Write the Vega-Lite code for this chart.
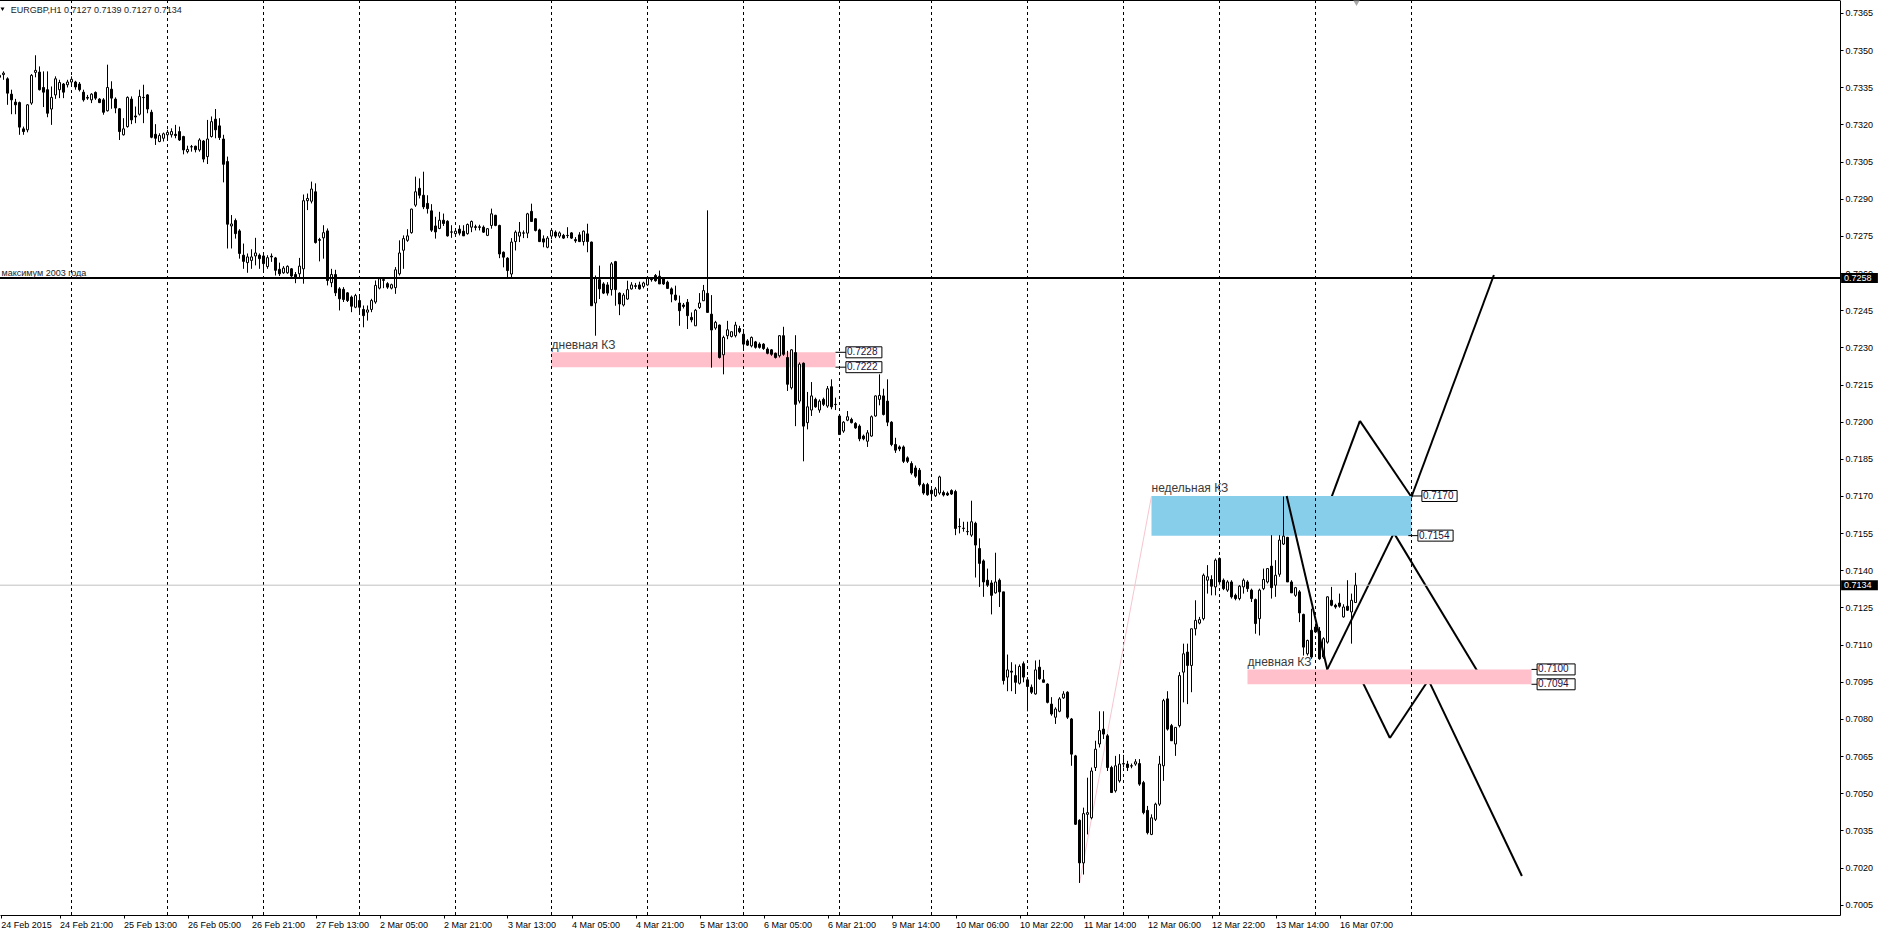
{
"$schema": "https://vega.github.io/schema/vega-lite/v6.json",
"width": 1840, "height": 915,
"autosize": {"type": "none"},
"padding": {"left": 0, "top": 0, "right": 42, "bottom": 19},
"background": "white",
"config": {"view": {"stroke": null}, "font": "Liberation Sans", "axis": {"labelOverlap": false, "labelSeparation": 0}, "scale": {"continuousPadding": 0}},
"datasets": {
"candles": [
{"n":0,"o":0.7339,"h":0.73403,"l":0.7338,"c":0.73398},
{"n":1,"o":0.73401,"h":0.73414,"l":0.7338,"c":0.73407},
{"n":2,"o":0.73384,"h":0.7339,"l":0.73279,"c":0.73326},
{"n":3,"o":0.73322,"h":0.7334,"l":0.73241,"c":0.73299},
{"n":4,"o":0.7329,"h":0.73303,"l":0.73241,"c":0.73279},
{"n":5,"o":0.73288,"h":0.73292,"l":0.73158,"c":0.73189},
{"n":6,"o":0.73182,"h":0.73191,"l":0.73158,"c":0.73171},
{"n":7,"o":0.73178,"h":0.73282,"l":0.73168,"c":0.73279},
{"n":8,"o":0.73286,"h":0.73403,"l":0.73279,"c":0.73398},
{"n":9,"o":0.7341,"h":0.73479,"l":0.7339,"c":0.73418},
{"n":10,"o":0.73411,"h":0.73434,"l":0.73337,"c":0.7334},
{"n":11,"o":0.73349,"h":0.73414,"l":0.7327,"c":0.7333},
{"n":12,"o":0.7334,"h":0.73414,"l":0.73229,"c":0.73245},
{"n":13,"o":0.73262,"h":0.73353,"l":0.73198,"c":0.73309},
{"n":14,"o":0.73319,"h":0.73394,"l":0.73303,"c":0.73384},
{"n":15,"o":0.7334,"h":0.7338,"l":0.73306,"c":0.73369},
{"n":16,"o":0.73363,"h":0.73367,"l":0.73306,"c":0.7333},
{"n":17,"o":0.7336,"h":0.7338,"l":0.73349,"c":0.73371},
{"n":18,"o":0.73371,"h":0.73394,"l":0.73353,"c":0.73382},
{"n":19,"o":0.73371,"h":0.73376,"l":0.7334,"c":0.73351},
{"n":20,"o":0.73363,"h":0.73371,"l":0.73333,"c":0.7334},
{"n":21,"o":0.7333,"h":0.7334,"l":0.73292,"c":0.73299},
{"n":22,"o":0.73309,"h":0.73319,"l":0.73299,"c":0.73306},
{"n":23,"o":0.73299,"h":0.73326,"l":0.73286,"c":0.73322},
{"n":24,"o":0.73329,"h":0.73333,"l":0.73299,"c":0.73306},
{"n":25,"o":0.73302,"h":0.73306,"l":0.73286,"c":0.73288},
{"n":26,"o":0.73299,"h":0.73306,"l":0.73239,"c":0.73249},
{"n":27,"o":0.73255,"h":0.73441,"l":0.73252,"c":0.73349},
{"n":28,"o":0.73342,"h":0.73374,"l":0.73263,"c":0.73306},
{"n":29,"o":0.73302,"h":0.73309,"l":0.73245,"c":0.73266},
{"n":30,"o":0.73263,"h":0.73266,"l":0.73137,"c":0.73171},
{"n":31,"o":0.73158,"h":0.73225,"l":0.73155,"c":0.73182},
{"n":32,"o":0.73191,"h":0.73313,"l":0.73187,"c":0.73309},
{"n":33,"o":0.73302,"h":0.73313,"l":0.73201,"c":0.73218},
{"n":34,"o":0.73234,"h":0.73272,"l":0.73205,"c":0.7323},
{"n":35,"o":0.73241,"h":0.7334,"l":0.73236,"c":0.73313},
{"n":36,"o":0.73309,"h":0.7336,"l":0.73205,"c":0.73308},
{"n":37,"o":0.73319,"h":0.73322,"l":0.73245,"c":0.73262},
{"n":38,"o":0.73249,"h":0.73259,"l":0.73144,"c":0.73148},
{"n":39,"o":0.7316,"h":0.73201,"l":0.73117,"c":0.73144},
{"n":40,"o":0.73131,"h":0.73164,"l":0.73128,"c":0.73155},
{"n":41,"o":0.73144,"h":0.73167,"l":0.73131,"c":0.73162},
{"n":42,"o":0.73158,"h":0.73178,"l":0.73144,"c":0.73168},
{"n":43,"o":0.73158,"h":0.73184,"l":0.73147,"c":0.73171},
{"n":44,"o":0.7316,"h":0.73198,"l":0.73144,"c":0.73155},
{"n":45,"o":0.73171,"h":0.73191,"l":0.73133,"c":0.73137},
{"n":46,"o":0.73151,"h":0.73154,"l":0.73079,"c":0.73097},
{"n":47,"o":0.7309,"h":0.73114,"l":0.73083,"c":0.73099},
{"n":48,"o":0.7311,"h":0.73117,"l":0.7309,"c":0.73109},
{"n":49,"o":0.73112,"h":0.73114,"l":0.73087,"c":0.73098},
{"n":50,"o":0.73097,"h":0.73144,"l":0.7309,"c":0.73137},
{"n":51,"o":0.73133,"h":0.73137,"l":0.73047,"c":0.7306},
{"n":52,"o":0.7307,"h":0.73218,"l":0.7304,"c":0.73141},
{"n":53,"o":0.73151,"h":0.73232,"l":0.73147,"c":0.73211},
{"n":54,"o":0.73221,"h":0.73262,"l":0.73144,"c":0.73178},
{"n":55,"o":0.73194,"h":0.73225,"l":0.73137,"c":0.73147},
{"n":56,"o":0.73141,"h":0.73158,"l":0.72966,"c":0.73039},
{"n":57,"o":0.7305,"h":0.7307,"l":0.72699,"c":0.72797},
{"n":58,"o":0.7279,"h":0.72834,"l":0.72699,"c":0.72798},
{"n":59,"o":0.72812,"h":0.7282,"l":0.72739,"c":0.72759},
{"n":60,"o":0.7277,"h":0.72777,"l":0.72658,"c":0.72679},
{"n":61,"o":0.72672,"h":0.72719,"l":0.72617,"c":0.72647},
{"n":62,"o":0.72642,"h":0.72679,"l":0.72601,"c":0.72665},
{"n":63,"o":0.72651,"h":0.72696,"l":0.72617,"c":0.72665},
{"n":64,"o":0.72669,"h":0.72742,"l":0.72631,"c":0.72681},
{"n":65,"o":0.72672,"h":0.72679,"l":0.72617,"c":0.72658},
{"n":66,"o":0.72669,"h":0.72679,"l":0.72604,"c":0.72638},
{"n":67,"o":0.72626,"h":0.72672,"l":0.72617,"c":0.72662},
{"n":68,"o":0.72668,"h":0.72679,"l":0.72645,"c":0.72665},
{"n":69,"o":0.72661,"h":0.72665,"l":0.7259,"c":0.72611},
{"n":70,"o":0.72615,"h":0.72642,"l":0.72588,"c":0.72597},
{"n":71,"o":0.72601,"h":0.72628,"l":0.72597,"c":0.7262},
{"n":72,"o":0.72601,"h":0.72631,"l":0.72597,"c":0.72627},
{"n":73,"o":0.72617,"h":0.7262,"l":0.72577,"c":0.72588},
{"n":74,"o":0.72594,"h":0.72604,"l":0.72559,"c":0.72582},
{"n":75,"o":0.72597,"h":0.72661,"l":0.72577,"c":0.72628},
{"n":76,"o":0.72617,"h":0.72917,"l":0.72557,"c":0.72892},
{"n":77,"o":0.72892,"h":0.72921,"l":0.72854,"c":0.72901},
{"n":78,"o":0.7289,"h":0.72969,"l":0.72881,"c":0.72939},
{"n":79,"o":0.72928,"h":0.72962,"l":0.72719,"c":0.72723},
{"n":80,"o":0.72735,"h":0.72742,"l":0.72647,"c":0.72732},
{"n":81,"o":0.72742,"h":0.72793,"l":0.72658,"c":0.72763},
{"n":82,"o":0.7277,"h":0.7278,"l":0.7255,"c":0.7257},
{"n":83,"o":0.72561,"h":0.72617,"l":0.72543,"c":0.72594},
{"n":84,"o":0.72594,"h":0.72613,"l":0.72507,"c":0.7252},
{"n":85,"o":0.72536,"h":0.72543,"l":0.72449,"c":0.72496},
{"n":86,"o":0.72534,"h":0.72543,"l":0.72483,"c":0.72493},
{"n":87,"o":0.7252,"h":0.72523,"l":0.72483,"c":0.72489},
{"n":88,"o":0.72503,"h":0.72509,"l":0.72442,"c":0.72466},
{"n":89,"o":0.72462,"h":0.72516,"l":0.72458,"c":0.72509},
{"n":90,"o":0.72489,"h":0.72509,"l":0.72442,"c":0.72462},
{"n":91,"o":0.72453,"h":0.72469,"l":0.72381,"c":0.72428},
{"n":92,"o":0.72442,"h":0.72469,"l":0.72408,"c":0.72451},
{"n":93,"o":0.72453,"h":0.72496,"l":0.72442,"c":0.72489},
{"n":94,"o":0.72483,"h":0.7257,"l":0.72476,"c":0.7255},
{"n":95,"o":0.72539,"h":0.72584,"l":0.72534,"c":0.72577},
{"n":96,"o":0.7257,"h":0.72584,"l":0.72539,"c":0.72574},
{"n":97,"o":0.72557,"h":0.72563,"l":0.72536,"c":0.72543},
{"n":98,"o":0.72539,"h":0.72557,"l":0.72534,"c":0.72553},
{"n":99,"o":0.72541,"h":0.72624,"l":0.72516,"c":0.72613},
{"n":100,"o":0.72597,"h":0.72732,"l":0.7259,"c":0.72681},
{"n":101,"o":0.72692,"h":0.72752,"l":0.72617,"c":0.72739},
{"n":102,"o":0.72732,"h":0.72777,"l":0.72726,"c":0.7275},
{"n":103,"o":0.72763,"h":0.7286,"l":0.72759,"c":0.72858},
{"n":104,"o":0.72874,"h":0.72989,"l":0.72867,"c":0.72928},
{"n":105,"o":0.72942,"h":0.72982,"l":0.72901,"c":0.72914},
{"n":106,"o":0.72914,"h":0.73009,"l":0.72858,"c":0.72867},
{"n":107,"o":0.72881,"h":0.72914,"l":0.7284,"c":0.7286},
{"n":108,"o":0.72851,"h":0.72878,"l":0.72766,"c":0.72773},
{"n":109,"o":0.7279,"h":0.72827,"l":0.72739,"c":0.72766},
{"n":110,"o":0.7278,"h":0.72847,"l":0.72777,"c":0.72813},
{"n":111,"o":0.72813,"h":0.7284,"l":0.7279,"c":0.728},
{"n":112,"o":0.72809,"h":0.72813,"l":0.72747,"c":0.7275},
{"n":113,"o":0.72766,"h":0.72793,"l":0.72742,"c":0.72765},
{"n":114,"o":0.72759,"h":0.7278,"l":0.72752,"c":0.72769},
{"n":115,"o":0.72777,"h":0.72793,"l":0.72752,"c":0.72761},
{"n":116,"o":0.72769,"h":0.72793,"l":0.7275,"c":0.7275},
{"n":117,"o":0.72759,"h":0.728,"l":0.72755,"c":0.72796},
{"n":118,"o":0.72785,"h":0.72812,"l":0.72765,"c":0.72808},
{"n":119,"o":0.72787,"h":0.72795,"l":0.72772,"c":0.72784},
{"n":120,"o":0.72784,"h":0.72795,"l":0.72772,"c":0.72787},
{"n":121,"o":0.72785,"h":0.72792,"l":0.72762,"c":0.72765},
{"n":122,"o":0.72752,"h":0.72781,"l":0.72749,"c":0.72779},
{"n":123,"o":0.72792,"h":0.7286,"l":0.72779,"c":0.72839},
{"n":124,"o":0.72833,"h":0.72835,"l":0.72789,"c":0.72792},
{"n":125,"o":0.72792,"h":0.72795,"l":0.7266,"c":0.72677},
{"n":126,"o":0.72684,"h":0.72687,"l":0.72623,"c":0.72664},
{"n":127,"o":0.7266,"h":0.72664,"l":0.72583,"c":0.7261},
{"n":128,"o":0.72596,"h":0.72741,"l":0.72583,"c":0.72725},
{"n":129,"o":0.72727,"h":0.72772,"l":0.72691,"c":0.72765},
{"n":130,"o":0.72749,"h":0.72806,"l":0.72725,"c":0.72765},
{"n":131,"o":0.72762,"h":0.72772,"l":0.72741,"c":0.72761},
{"n":132,"o":0.72761,"h":0.72843,"l":0.72741,"c":0.72839},
{"n":133,"o":0.72849,"h":0.7288,"l":0.72806,"c":0.72808},
{"n":134,"o":0.72819,"h":0.72822,"l":0.72768,"c":0.72772},
{"n":135,"o":0.72774,"h":0.72779,"l":0.72725,"c":0.72727},
{"n":136,"o":0.72738,"h":0.72752,"l":0.72704,"c":0.72725},
{"n":137,"o":0.72704,"h":0.72749,"l":0.727,"c":0.72741},
{"n":138,"o":0.72749,"h":0.72781,"l":0.72736,"c":0.72772},
{"n":139,"o":0.72765,"h":0.72772,"l":0.72741,"c":0.72749},
{"n":140,"o":0.72749,"h":0.72768,"l":0.72741,"c":0.72762},
{"n":141,"o":0.72752,"h":0.72758,"l":0.72738,"c":0.72741},
{"n":142,"o":0.72752,"h":0.72785,"l":0.72741,"c":0.72751},
{"n":143,"o":0.72762,"h":0.72765,"l":0.72738,"c":0.72741},
{"n":144,"o":0.72735,"h":0.72745,"l":0.72722,"c":0.7273},
{"n":145,"o":0.72754,"h":0.72765,"l":0.72725,"c":0.72727},
{"n":146,"o":0.72727,"h":0.72772,"l":0.72711,"c":0.72769},
{"n":147,"o":0.72758,"h":0.72799,"l":0.72684,"c":0.72727},
{"n":148,"o":0.72725,"h":0.72727,"l":0.72468,"c":0.72468},
{"n":149,"o":0.72479,"h":0.7259,"l":0.72347,"c":0.7258},
{"n":150,"o":0.72573,"h":0.7263,"l":0.72495,"c":0.72536},
{"n":151,"o":0.72556,"h":0.72563,"l":0.72515,"c":0.72519},
{"n":152,"o":0.72552,"h":0.72563,"l":0.72509,"c":0.72519},
{"n":153,"o":0.72533,"h":0.72644,"l":0.72509,"c":0.72637},
{"n":154,"o":0.72646,"h":0.72649,"l":0.72468,"c":0.72533},
{"n":155,"o":0.72519,"h":0.72522,"l":0.7243,"c":0.72475},
{"n":156,"o":0.72471,"h":0.72519,"l":0.72465,"c":0.72511},
{"n":157,"o":0.72495,"h":0.72569,"l":0.72492,"c":0.72533},
{"n":158,"o":0.72536,"h":0.72563,"l":0.72533,"c":0.72552},
{"n":159,"o":0.72549,"h":0.7256,"l":0.72536,"c":0.72546},
{"n":160,"o":0.72552,"h":0.72565,"l":0.72533,"c":0.72536},
{"n":161,"o":0.72546,"h":0.72565,"l":0.72538,"c":0.7256},
{"n":162,"o":0.72552,"h":0.72583,"l":0.72549,"c":0.72579},
{"n":163,"o":0.72576,"h":0.72583,"l":0.72565,"c":0.72573},
{"n":164,"o":0.7259,"h":0.72596,"l":0.72565,"c":0.72569},
{"n":165,"o":0.72587,"h":0.7261,"l":0.72556,"c":0.72556},
{"n":166,"o":0.72579,"h":0.72583,"l":0.72552,"c":0.72556},
{"n":167,"o":0.72563,"h":0.72569,"l":0.72536,"c":0.72538},
{"n":168,"o":0.72536,"h":0.72542,"l":0.72482,"c":0.72515},
{"n":169,"o":0.72511,"h":0.72549,"l":0.72488,"c":0.72492},
{"n":170,"o":0.72479,"h":0.72509,"l":0.72387,"c":0.72448},
{"n":171,"o":0.72471,"h":0.72479,"l":0.72457,"c":0.72465},
{"n":172,"o":0.72482,"h":0.72495,"l":0.72374,"c":0.72428},
{"n":173,"o":0.72421,"h":0.72441,"l":0.72401,"c":0.72411},
{"n":174,"o":0.72387,"h":0.72455,"l":0.72387,"c":0.7245},
{"n":175,"o":0.72461,"h":0.72519,"l":0.72455,"c":0.72479},
{"n":176,"o":0.72488,"h":0.72552,"l":0.72488,"c":0.72529},
{"n":177,"o":0.72518,"h":0.72853,"l":0.72441,"c":0.72441},
{"n":178,"o":0.72434,"h":0.72511,"l":0.72218,"c":0.7237},
{"n":179,"o":0.72378,"h":0.72407,"l":0.72371,"c":0.72401},
{"n":180,"o":0.7239,"h":0.72392,"l":0.72255,"c":0.72259},
{"n":181,"o":0.7227,"h":0.72347,"l":0.72191,"c":0.7234},
{"n":182,"o":0.72347,"h":0.72407,"l":0.72333,"c":0.72371},
{"n":183,"o":0.72344,"h":0.72363,"l":0.7234,"c":0.72363},
{"n":184,"o":0.72347,"h":0.72403,"l":0.7234,"c":0.7239},
{"n":185,"o":0.72376,"h":0.72387,"l":0.72357,"c":0.72363},
{"n":186,"o":0.72353,"h":0.72374,"l":0.72293,"c":0.72313},
{"n":187,"o":0.72326,"h":0.72333,"l":0.72306,"c":0.72309},
{"n":188,"o":0.72306,"h":0.72344,"l":0.723,"c":0.7234},
{"n":189,"o":0.72322,"h":0.72326,"l":0.72295,"c":0.723},
{"n":190,"o":0.72313,"h":0.7232,"l":0.72295,"c":0.723},
{"n":191,"o":0.72313,"h":0.72317,"l":0.7229,"c":0.72295},
{"n":192,"o":0.72293,"h":0.723,"l":0.72272,"c":0.72276},
{"n":193,"o":0.7229,"h":0.72293,"l":0.72266,"c":0.72272},
{"n":194,"o":0.72276,"h":0.72279,"l":0.72255,"c":0.72259},
{"n":195,"o":0.72266,"h":0.72349,"l":0.72259,"c":0.72347},
{"n":196,"o":0.72347,"h":0.72383,"l":0.72266,"c":0.72272},
{"n":197,"o":0.72259,"h":0.72286,"l":0.72124,"c":0.72151},
{"n":198,"o":0.72137,"h":0.72293,"l":0.7213,"c":0.7229},
{"n":199,"o":0.72279,"h":0.72349,"l":0.71982,"c":0.7207},
{"n":200,"o":0.72083,"h":0.72239,"l":0.72074,"c":0.72232},
{"n":201,"o":0.72236,"h":0.72239,"l":0.7184,"c":0.71982},
{"n":202,"o":0.71996,"h":0.7212,"l":0.71969,"c":0.7206},
{"n":203,"o":0.72047,"h":0.7216,"l":0.72023,"c":0.72104},
{"n":204,"o":0.7209,"h":0.72097,"l":0.72056,"c":0.7206},
{"n":205,"o":0.72047,"h":0.7209,"l":0.72036,"c":0.72083},
{"n":206,"o":0.7209,"h":0.72097,"l":0.72063,"c":0.7207},
{"n":207,"o":0.72063,"h":0.72144,"l":0.72056,"c":0.72133},
{"n":208,"o":0.72141,"h":0.72171,"l":0.7205,"c":0.7206},
{"n":209,"o":0.7207,"h":0.72097,"l":0.72047,"c":0.72069},
{"n":210,"o":0.72023,"h":0.72025,"l":0.71948,"c":0.71948},
{"n":211,"o":0.71962,"h":0.72002,"l":0.71955,"c":0.71998},
{"n":212,"o":0.72006,"h":0.72043,"l":0.72002,"c":0.7202},
{"n":213,"o":0.72009,"h":0.72016,"l":0.71993,"c":0.71996},
{"n":214,"o":0.71993,"h":0.71998,"l":0.71971,"c":0.71975},
{"n":215,"o":0.71982,"h":0.71989,"l":0.71921,"c":0.71931},
{"n":216,"o":0.71942,"h":0.71948,"l":0.71925,"c":0.71931},
{"n":217,"o":0.71921,"h":0.71966,"l":0.71898,"c":0.71955},
{"n":218,"o":0.71942,"h":0.72025,"l":0.71939,"c":0.7202},
{"n":219,"o":0.72023,"h":0.72106,"l":0.7202,"c":0.72104},
{"n":220,"o":0.7209,"h":0.72191,"l":0.72066,"c":0.72106},
{"n":221,"o":0.72104,"h":0.72133,"l":0.72025,"c":0.72029},
{"n":222,"o":0.72083,"h":0.72171,"l":0.71982,"c":0.71998},
{"n":223,"o":0.71998,"h":0.72002,"l":0.71901,"c":0.71908},
{"n":224,"o":0.71908,"h":0.71935,"l":0.71874,"c":0.71885},
{"n":225,"o":0.71898,"h":0.71904,"l":0.71881,"c":0.7189},
{"n":226,"o":0.71898,"h":0.71904,"l":0.71833,"c":0.7184},
{"n":227,"o":0.71854,"h":0.7186,"l":0.71833,"c":0.7184},
{"n":228,"o":0.71831,"h":0.7184,"l":0.71786,"c":0.71793},
{"n":229,"o":0.71813,"h":0.71823,"l":0.71773,"c":0.7178},
{"n":230,"o":0.71804,"h":0.71813,"l":0.71739,"c":0.71746},
{"n":231,"o":0.71746,"h":0.71753,"l":0.71705,"c":0.71712},
{"n":232,"o":0.71746,"h":0.71753,"l":0.71701,"c":0.71705},
{"n":233,"o":0.71723,"h":0.71739,"l":0.71692,"c":0.71709},
{"n":234,"o":0.71701,"h":0.71736,"l":0.71696,"c":0.71728},
{"n":235,"o":0.71712,"h":0.71782,"l":0.71705,"c":0.71777},
{"n":236,"o":0.71714,"h":0.71722,"l":0.71698,"c":0.71704},
{"n":237,"o":0.71711,"h":0.71718,"l":0.717,"c":0.71704},
{"n":238,"o":0.71722,"h":0.71727,"l":0.71704,"c":0.71708},
{"n":239,"o":0.71718,"h":0.71725,"l":0.71542,"c":0.71569},
{"n":240,"o":0.71576,"h":0.7161,"l":0.71549,"c":0.71577},
{"n":241,"o":0.71569,"h":0.71596,"l":0.71556,"c":0.7157},
{"n":242,"o":0.71556,"h":0.71596,"l":0.71542,"c":0.71557},
{"n":243,"o":0.71542,"h":0.71681,"l":0.71535,"c":0.71596},
{"n":244,"o":0.7159,"h":0.71596,"l":0.71371,"c":0.71502},
{"n":245,"o":0.71488,"h":0.71529,"l":0.71333,"c":0.71428},
{"n":246,"o":0.71438,"h":0.71444,"l":0.71293,"c":0.71353},
{"n":247,"o":0.7136,"h":0.71407,"l":0.71333,"c":0.7134},
{"n":248,"o":0.71349,"h":0.7136,"l":0.71222,"c":0.71299},
{"n":249,"o":0.71309,"h":0.71471,"l":0.71306,"c":0.71353},
{"n":250,"o":0.7136,"h":0.71367,"l":0.71252,"c":0.71313},
{"n":251,"o":0.71313,"h":0.71313,"l":0.70939,"c":0.70955},
{"n":252,"o":0.70969,"h":0.7106,"l":0.70912,"c":0.70998},
{"n":253,"o":0.70993,"h":0.71029,"l":0.70912,"c":0.70989},
{"n":254,"o":0.70975,"h":0.7102,"l":0.70901,"c":0.70948},
{"n":255,"o":0.70944,"h":0.7102,"l":0.70939,"c":0.71012},
{"n":256,"o":0.71023,"h":0.71032,"l":0.70948,"c":0.70969},
{"n":257,"o":0.70958,"h":0.70969,"l":0.70831,"c":0.70931},
{"n":258,"o":0.70928,"h":0.70939,"l":0.70901,"c":0.70908},
{"n":259,"o":0.70901,"h":0.71036,"l":0.70898,"c":0.70998},
{"n":260,"o":0.71009,"h":0.71039,"l":0.70958,"c":0.70962},
{"n":261,"o":0.70958,"h":0.70998,"l":0.70948,"c":0.70948},
{"n":262,"o":0.70941,"h":0.70944,"l":0.70863,"c":0.70867},
{"n":263,"o":0.7086,"h":0.70888,"l":0.70813,"c":0.7082},
{"n":264,"o":0.70807,"h":0.70847,"l":0.7078,"c":0.7084},
{"n":265,"o":0.70831,"h":0.70888,"l":0.70827,"c":0.70881},
{"n":266,"o":0.70885,"h":0.70912,"l":0.70881,"c":0.70901},
{"n":267,"o":0.70908,"h":0.70912,"l":0.708,"c":0.70807},
{"n":268,"o":0.708,"h":0.70804,"l":0.70611,"c":0.70658},
{"n":269,"o":0.70651,"h":0.70655,"l":0.70372,"c":0.70375},
{"n":270,"o":0.70391,"h":0.70395,"l":0.70138,"c":0.70219},
{"n":271,"o":0.70219,"h":0.70442,"l":0.70172,"c":0.70418},
{"n":272,"o":0.70415,"h":0.70563,"l":0.70334,"c":0.70422},
{"n":273,"o":0.70401,"h":0.70604,"l":0.70395,"c":0.7059},
{"n":274,"o":0.70604,"h":0.70712,"l":0.7059,"c":0.70678},
{"n":275,"o":0.70699,"h":0.70831,"l":0.70685,"c":0.70753},
{"n":276,"o":0.70759,"h":0.70831,"l":0.70719,"c":0.70739},
{"n":277,"o":0.70732,"h":0.70739,"l":0.7059,"c":0.70604},
{"n":278,"o":0.70604,"h":0.70611,"l":0.70503,"c":0.70503},
{"n":279,"o":0.7051,"h":0.70651,"l":0.70503,"c":0.70611},
{"n":280,"o":0.7055,"h":0.70658,"l":0.70543,"c":0.70618},
{"n":281,"o":0.70618,"h":0.70655,"l":0.70604,"c":0.7062},
{"n":282,"o":0.70618,"h":0.70631,"l":0.7059,"c":0.70604},
{"n":283,"o":0.70611,"h":0.7062,"l":0.70601,"c":0.7061},
{"n":284,"o":0.70618,"h":0.70638,"l":0.70611,"c":0.70627},
{"n":285,"o":0.7062,"h":0.70638,"l":0.7053,"c":0.70537},
{"n":286,"o":0.70543,"h":0.7055,"l":0.70415,"c":0.70422},
{"n":287,"o":0.70431,"h":0.70449,"l":0.70334,"c":0.70341},
{"n":288,"o":0.70334,"h":0.70415,"l":0.70331,"c":0.70401},
{"n":289,"o":0.70395,"h":0.70462,"l":0.70388,"c":0.70456},
{"n":290,"o":0.70456,"h":0.70651,"l":0.70449,"c":0.70618},
{"n":291,"o":0.70611,"h":0.70881,"l":0.7055,"c":0.70874},
{"n":292,"o":0.70881,"h":0.70912,"l":0.70753,"c":0.70759},
{"n":293,"o":0.70773,"h":0.7078,"l":0.70712,"c":0.70712},
{"n":294,"o":0.70699,"h":0.70766,"l":0.70651,"c":0.70766},
{"n":295,"o":0.70773,"h":0.70989,"l":0.70766,"c":0.70975},
{"n":296,"o":0.70989,"h":0.71104,"l":0.70867,"c":0.71063},
{"n":297,"o":0.7107,"h":0.71104,"l":0.7086,"c":0.71016},
{"n":298,"o":0.71016,"h":0.71164,"l":0.70908,"c":0.71164},
{"n":299,"o":0.71164,"h":0.71279,"l":0.71137,"c":0.71198},
{"n":300,"o":0.71187,"h":0.71212,"l":0.71182,"c":0.71201},
{"n":301,"o":0.71205,"h":0.71387,"l":0.71198,"c":0.7138},
{"n":302,"o":0.7136,"h":0.71421,"l":0.71306,"c":0.71374},
{"n":303,"o":0.71363,"h":0.7138,"l":0.71299,"c":0.71336},
{"n":304,"o":0.71333,"h":0.71448,"l":0.71299,"c":0.71441},
{"n":305,"o":0.71448,"h":0.71452,"l":0.71353,"c":0.71353},
{"n":306,"o":0.7136,"h":0.71367,"l":0.7132,"c":0.71326},
{"n":307,"o":0.7132,"h":0.7136,"l":0.71313,"c":0.71353},
{"n":308,"o":0.71353,"h":0.7136,"l":0.71286,"c":0.71293},
{"n":309,"o":0.71299,"h":0.71306,"l":0.71279,"c":0.71286},
{"n":310,"o":0.71286,"h":0.7134,"l":0.71279,"c":0.71336},
{"n":311,"o":0.71333,"h":0.71367,"l":0.71306,"c":0.7136},
{"n":312,"o":0.71353,"h":0.7136,"l":0.71313,"c":0.71326},
{"n":313,"o":0.7132,"h":0.71326,"l":0.71272,"c":0.71286},
{"n":314,"o":0.71282,"h":0.71286,"l":0.71144,"c":0.71185},
{"n":315,"o":0.71205,"h":0.71326,"l":0.71137,"c":0.7132},
{"n":316,"o":0.71326,"h":0.71407,"l":0.7132,"c":0.71363},
{"n":317,"o":0.71353,"h":0.71407,"l":0.71347,"c":0.71407},
{"n":318,"o":0.71417,"h":0.71542,"l":0.71286,"c":0.7133},
{"n":319,"o":0.7134,"h":0.71441,"l":0.71293,"c":0.7138},
{"n":320,"o":0.71384,"h":0.71542,"l":0.71374,"c":0.71522},
{"n":321,"o":0.71506,"h":0.71698,"l":0.71502,"c":0.71538},
{"n":322,"o":0.71533,"h":0.71535,"l":0.71353,"c":0.71353},
{"n":323,"o":0.71353,"h":0.7136,"l":0.71309,"c":0.71309},
{"n":324,"o":0.71299,"h":0.71333,"l":0.71293,"c":0.7133},
{"n":325,"o":0.71313,"h":0.7132,"l":0.71191,"c":0.71228},
{"n":326,"o":0.71222,"h":0.71225,"l":0.71056,"c":0.7109},
{"n":327,"o":0.71063,"h":0.7112,"l":0.71056,"c":0.71117},
{"n":328,"o":0.71158,"h":0.71245,"l":0.71043,"c":0.7105},
{"n":329,"o":0.71171,"h":0.71185,"l":0.71147,"c":0.71151},
{"n":330,"o":0.71155,"h":0.71171,"l":0.71039,"c":0.71043},
{"n":331,"o":0.7105,"h":0.7113,"l":0.71043,"c":0.71124},
{"n":332,"o":0.7111,"h":0.71295,"l":0.71104,"c":0.71293},
{"n":333,"o":0.71279,"h":0.71333,"l":0.71255,"c":0.71259},
{"n":334,"o":0.71259,"h":0.71265,"l":0.71245,"c":0.71252},
{"n":335,"o":0.71268,"h":0.71306,"l":0.71249,"c":0.71255},
{"n":336,"o":0.71212,"h":0.71263,"l":0.71209,"c":0.71252},
{"n":337,"o":0.71255,"h":0.7136,"l":0.71236,"c":0.71239},
{"n":338,"o":0.71232,"h":0.71306,"l":0.71104,"c":0.71279},
{"n":339,"o":0.7127,"h":0.7139,"l":0.7127,"c":0.7134}
],
"seps": [{"n":18},{"n":42},{"n":66},{"n":90},{"n":114},{"n":138},{"n":162},{"n":186},{"n":210},{"n":233},{"n":257},{"n":281},{"n":305},{"n":329},{"n":353}],
"zones": [
{"zone":"daily","n":138,"n2":209,"p":0.7222,"p2":0.7228},
{"zone":"weekly","n":288,"n2":353,"p":0.7154,"p2":0.717},
{"zone":"daily","n":312,"n2":383,"p":0.7094,"p2":0.71}
],
"backsegs": [
{"n":331.95,"p":0.71,"n2":352.99,"p2":0.71696},
{"n":352.99,"p":0.71696,"n2":373.6,"p2":0.72592},
{"n":330.6,"p":0.71591,"n2":340.1,"p2":0.72003},
{"n":340.1,"p":0.72003,"n2":352.99,"p2":0.71696},
{"n":345.1,"p":0.71644,"n2":369.6,"p2":0.7099},
{"n":339.4,"p":0.70994,"n2":347.6,"p2":0.70723},
{"n":347.6,"p":0.70723,"n2":357.25,"p2":0.70957},
{"n":357.25,"p":0.70957,"n2":380.6,"p2":0.70166}
],
"frontsegs": [
{"n":321.8,"p":0.717,"n2":331.95,"p2":0.71}
],
"leaders": [
{"n":209,"n2":211.6,"p":0.7228},{"n":209,"n2":211.6,"p":0.7222},
{"n":353,"n2":355.6,"p":0.717},{"n":352.2,"n2":354.6,"p":0.7154},
{"n":383,"n2":384.4,"p":0.71},{"n":383,"n2":384.4,"p":0.7094}
],
"boxes": [
{"n":211.6,"n2":220.6,"p":0.7228,"t":"0.7228"},
{"n":211.6,"n2":220.6,"p":0.7222,"t":"0.7222"},
{"n":355.6,"n2":364.4,"p":0.717,"t":"0.7170"},
{"n":354.6,"n2":363.4,"p":0.7154,"t":"0.7154"},
{"n":384.4,"n2":393.9,"p":0.71,"t":"0.7100"},
{"n":384.4,"n2":393.9,"p":0.7094,"t":"0.7094"}
],
"badges": [
{"n":460.4,"n2":469.6,"p":0.7258,"t":"0.7258"},
{"n":460.4,"n2":469.6,"p":0.7134,"t":"0.7134"}
],
"zonelabels": [
{"n":138,"p":0.72295,"t":"дневная КЗ"},
{"n":288,"p":0.71716,"t":"недельная КЗ"},
{"n":312,"p":0.71014,"t":"дневная КЗ"}
],
"smalltext": [
{"n":2.8,"p":0.736605,"t":"EURGBP,H1  0.7127 0.7139 0.7127 0.7134"},
{"n":0.5,"p":0.725982,"t":"максимум 2003 года"}
]
},
"layer": [
{
"data": {"name": "backsegs"},
"mark": {"type": "rule", "color": "black", "strokeWidth": 2},
"encoding": {
"x": {"field": "n", "type": "quantitative", "scale": {"domain": [0.125, 460.125], "nice": false, "zero": false, "padding": 0},
 "axis": {"title": null, "orient": "bottom", "grid": false, "tickCount": 60,
  "values": [0.3, 15, 31, 47, 63, 79, 95, 111, 127, 143, 159, 175, 191, 207, 223, 239, 255, 271, 287, 303, 319, 335],
  "labelExpr": "datum.value < 1 ? '24 Feb 2015' : ['24 Feb 21:00','25 Feb 13:00','26 Feb 05:00','26 Feb 21:00','27 Feb 13:00','2 Mar 05:00','2 Mar 21:00','3 Mar 13:00','4 Mar 05:00','4 Mar 21:00','5 Mar 13:00','6 Mar 05:00','6 Mar 21:00','9 Mar 14:00','10 Mar 06:00','10 Mar 22:00','11 Mar 14:00','12 Mar 06:00','12 Mar 22:00','13 Mar 14:00','16 Mar 07:00'][round((datum.value - 15) / 16)]",
  "labelAlign": "left", "labelBaseline": "top", "labelPadding": 2, "labelFont": "Liberation Sans", "labelFontSize": 9, "labelColor": "black",
  "labelOverlap": false, "labelBound": false, "labelFlush": false,
  "tickColor": "black", "tickSize": 3, "tickWidth": 1, "domainColor": "black", "domainWidth": 1}},
"x2": {"field": "n2"},
"y": {"field": "p", "type": "quantitative", "scale": {"domain": [0.700087, 0.737021], "nice": false, "zero": false, "padding": 0},
 "axis": {"title": null, "orient": "right", "grid": false, "tickCount": 60,
  "values": [0.7005, 0.702, 0.7035, 0.705, 0.7065, 0.708, 0.7095, 0.711, 0.7125, 0.714, 0.7155, 0.717, 0.7185, 0.72, 0.7215, 0.723, 0.7245, 0.726, 0.7275, 0.729, 0.7305, 0.732, 0.7335, 0.735, 0.7365],
  "format": ".4f", "labelAlign": "left", "labelBaseline": "middle", "labelPadding": 2, "labelFont": "Liberation Sans", "labelFontSize": 9, "labelColor": "black",
  "labelOverlap": false, "labelBound": false, "labelFlush": false,
  "tickColor": "black", "tickSize": 3, "tickWidth": 1, "domainColor": "black", "domainWidth": 1}},
"y2": {"field": "p2"}
}
},
{
"data": {"name": "zones"},
"mark": {"type": "rect"},
"encoding": {
"x": {"field": "n", "type": "quantitative", "scale": {"domain": [0.125, 460.125], "nice": false, "zero": false, "padding": 0}},
"x2": {"field": "n2"},
"y": {"field": "p", "type": "quantitative", "scale": {"domain": [0.700087, 0.737021], "nice": false, "zero": false, "padding": 0}},
"y2": {"field": "p2"},
"color": {"field": "zone", "type": "nominal", "scale": {"domain": ["daily", "weekly"], "range": ["#ffc0cb", "#87ceeb"]}, "legend": null}
}
},
{
"data": {"name": "seps"},
"mark": {"type": "rule", "color": "black", "strokeWidth": 1, "strokeDash": [3, 3]},
"encoding": {
"x": {"field": "n", "type": "quantitative", "scale": {"domain": [0.125, 460.125], "nice": false, "zero": false, "padding": 0}}
}
},
{
"data": {"values": [{"p": 0.7134}]},
"mark": {"type": "rule", "color": "#c0c0c0", "strokeWidth": 1},
"encoding": {
"y": {"field": "p", "type": "quantitative", "scale": {"domain": [0.700087, 0.737021], "nice": false, "zero": false, "padding": 0}}
}
},
{
"data": {"values": [{"n": 270, "p": 0.70138, "n2": 288, "p2": 0.717}]},
"mark": {"type": "rule", "color": "#f7c6cf", "strokeWidth": 1},
"encoding": {
"x": {"field": "n", "type": "quantitative", "scale": {"domain": [0.125, 460.125], "nice": false, "zero": false, "padding": 0}},
"x2": {"field": "n2"},
"y": {"field": "p", "type": "quantitative", "scale": {"domain": [0.700087, 0.737021], "nice": false, "zero": false, "padding": 0}},
"y2": {"field": "p2"}
}
},
{
"data": {"name": "candles"},
"mark": {"type": "rule", "color": "black", "strokeWidth": 1},
"encoding": {
"x": {"field": "n", "type": "quantitative", "scale": {"domain": [0.125, 460.125], "nice": false, "zero": false, "padding": 0}},
"y": {"field": "l", "type": "quantitative", "scale": {"domain": [0.700087, 0.737021], "nice": false, "zero": false, "padding": 0}},
"y2": {"field": "h"}
}
},
{
"data": {"name": "candles"},
"mark": {"type": "bar", "size": 2, "stroke": "black", "strokeWidth": 1},
"encoding": {
"x": {"field": "n", "type": "quantitative", "scale": {"domain": [0.125, 460.125], "nice": false, "zero": false, "padding": 0}},
"y": {"field": "o", "type": "quantitative", "scale": {"domain": [0.700087, 0.737021], "nice": false, "zero": false, "padding": 0}},
"y2": {"field": "c"},
"fill": {"condition": {"test": "datum.c >= datum.o", "value": "white"}, "value": "black"}
}
},
{
"data": {"values": [{"p": 0.7258}]},
"mark": {"type": "rule", "color": "black", "strokeWidth": 2},
"encoding": {
"y": {"field": "p", "type": "quantitative", "scale": {"domain": [0.700087, 0.737021], "nice": false, "zero": false, "padding": 0}}
}
},
{
"data": {"values": [{"p": 0.737021}]},
"mark": {"type": "rule", "color": "black", "strokeWidth": 2},
"encoding": {
"y": {"field": "p", "type": "quantitative", "scale": {"domain": [0.700087, 0.737021], "nice": false, "zero": false, "padding": 0}}
}
},
{
"data": {"name": "frontsegs"},
"mark": {"type": "rule", "color": "black", "strokeWidth": 2},
"encoding": {
"x": {"field": "n", "type": "quantitative", "scale": {"domain": [0.125, 460.125], "nice": false, "zero": false, "padding": 0}},
"x2": {"field": "n2"},
"y": {"field": "p", "type": "quantitative", "scale": {"domain": [0.700087, 0.737021], "nice": false, "zero": false, "padding": 0}},
"y2": {"field": "p2"}
}
},
{
"data": {"name": "leaders"},
"mark": {"type": "rule", "color": "black", "strokeWidth": 1, "clip": false},
"encoding": {
"x": {"field": "n", "type": "quantitative", "scale": {"domain": [0.125, 460.125], "nice": false, "zero": false, "padding": 0}},
"x2": {"field": "n2"},
"y": {"field": "p", "type": "quantitative", "scale": {"domain": [0.700087, 0.737021], "nice": false, "zero": false, "padding": 0}}
}
},
{
"data": {"name": "boxes"},
"mark": {"type": "bar", "size": 11, "fill": "white", "stroke": "black", "strokeWidth": 1, "clip": false},
"encoding": {
"x": {"field": "n", "type": "quantitative", "scale": {"domain": [0.125, 460.125], "nice": false, "zero": false, "padding": 0}},
"x2": {"field": "n2"},
"y": {"field": "p", "type": "quantitative", "scale": {"domain": [0.700087, 0.737021], "nice": false, "zero": false, "padding": 0}}
}
},
{
"data": {"name": "boxes"},
"mark": {"type": "text", "align": "left", "baseline": "middle", "dx": 1, "font": "Liberation Sans", "fontSize": 10, "color": "#24103c", "clip": false},
"encoding": {
"x": {"field": "n", "type": "quantitative", "scale": {"domain": [0.125, 460.125], "nice": false, "zero": false, "padding": 0}},
"y": {"field": "p", "type": "quantitative", "scale": {"domain": [0.700087, 0.737021], "nice": false, "zero": false, "padding": 0}},
"text": {"field": "t"}
}
},
{
"data": {"name": "badges"},
"mark": {"type": "bar", "size": 10, "fill": "black", "clip": false},
"encoding": {
"x": {"field": "n", "type": "quantitative", "scale": {"domain": [0.125, 460.125], "nice": false, "zero": false, "padding": 0}},
"x2": {"field": "n2"},
"y": {"field": "p", "type": "quantitative", "scale": {"domain": [0.700087, 0.737021], "nice": false, "zero": false, "padding": 0}}
}
},
{
"data": {"name": "badges"},
"mark": {"type": "text", "align": "left", "baseline": "middle", "dx": 3, "font": "Liberation Sans", "fontSize": 9, "color": "white", "clip": false},
"encoding": {
"x": {"field": "n", "type": "quantitative", "scale": {"domain": [0.125, 460.125], "nice": false, "zero": false, "padding": 0}},
"y": {"field": "p", "type": "quantitative", "scale": {"domain": [0.700087, 0.737021], "nice": false, "zero": false, "padding": 0}},
"text": {"field": "t"}
}
},
{
"data": {"name": "zonelabels"},
"mark": {"type": "text", "align": "left", "baseline": "alphabetic", "font": "Liberation Sans", "fontSize": 12, "color": "#3a3a3a", "clip": false},
"encoding": {
"x": {"field": "n", "type": "quantitative", "scale": {"domain": [0.125, 460.125], "nice": false, "zero": false, "padding": 0}},
"y": {"field": "p", "type": "quantitative", "scale": {"domain": [0.700087, 0.737021], "nice": false, "zero": false, "padding": 0}},
"text": {"field": "t"}
}
},
{
"data": {"name": "smalltext"},
"mark": {"type": "text", "align": "left", "baseline": "alphabetic", "dy": 3, "font": "Liberation Sans", "fontSize": 9, "color": "#222222", "clip": false},
"encoding": {
"x": {"field": "n", "type": "quantitative", "scale": {"domain": [0.125, 460.125], "nice": false, "zero": false, "padding": 0}},
"y": {"field": "p", "type": "quantitative", "scale": {"domain": [0.700087, 0.737021], "nice": false, "zero": false, "padding": 0}},
"text": {"field": "t"}
}
},
{
"data": {"values": [{"n": 0.75, "p": 0.73665}]},
"mark": {"type": "point", "shape": "triangle-down", "size": 16, "filled": true, "color": "black", "opacity": 1, "clip": false},
"encoding": {
"x": {"field": "n", "type": "quantitative", "scale": {"domain": [0.125, 460.125], "nice": false, "zero": false, "padding": 0}},
"y": {"field": "p", "type": "quantitative", "scale": {"domain": [0.700087, 0.737021], "nice": false, "zero": false, "padding": 0}}
}
},
{
"data": {"values": [{"n": 339.25, "p": 0.73689}]},
"mark": {"type": "point", "shape": "triangle-down", "size": 40, "filled": true, "color": "#a8a8a8", "opacity": 1, "clip": false},
"encoding": {
"x": {"field": "n", "type": "quantitative", "scale": {"domain": [0.125, 460.125], "nice": false, "zero": false, "padding": 0}},
"y": {"field": "p", "type": "quantitative", "scale": {"domain": [0.700087, 0.737021], "nice": false, "zero": false, "padding": 0}}
}
}
]
}
